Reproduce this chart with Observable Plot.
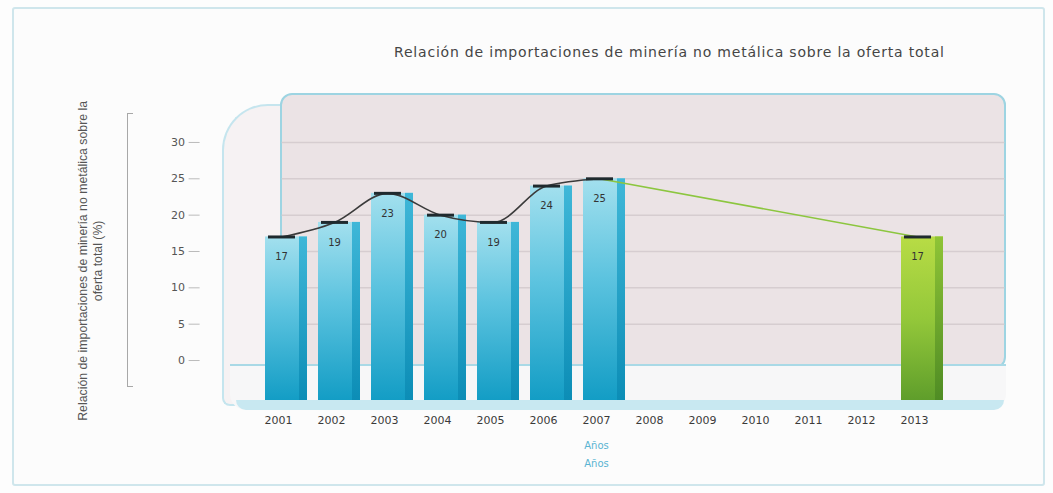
<!DOCTYPE html>
<html>
<head>
<meta charset="utf-8">
<script src="https://cdn.jsdelivr.net/npm/d3@7"></script>
<script src="https://cdn.jsdelivr.net/npm/@observablehq/plot@0.6"></script>
<style>
  html, body { margin: 0; padding: 0; background: #fff; }
  #wrap { position: relative; width: 1053px; height: 493px; overflow: hidden; background: #fdfdfd; }
  .deco { position: absolute; box-sizing: border-box; }
  #frame { left: 12px; top: 7px; width: 1033px; height: 479px; border: 2px solid #cfe6ec; border-radius: 3px; background: #fcfcfc; }
  #leftwall { left: 222px; top: 104px; width: 64px; height: 302px; background: #f6f2f3; border: 2px solid #c5e5ee; border-right: none; border-radius: 46px 0 0 8px; }
  #backwall { left: 280px; top: 93px; width: 726px; height: 276px; background: #ebe3e5; border: 2px solid #9dd4e2; border-radius: 12px; }
  #floor { left: 230px; top: 364px; width: 776px; height: 46px; background: #f7f7f8; border-top: 2px solid #a9d9e6; border-radius: 0 0 16px 16px; }
  #floorband { left: 236px; top: 400px; width: 768px; height: 10px; background: #c8e8f1; border-radius: 0 0 12px 12px; }
  #bracket { left: 127px; top: 113px; width: 6px; height: 274px; border: 1px solid #a8a8a8; border-right: none; }
  #title { position: absolute; left: 394px; top: 44px; font-family: "DejaVu Sans", sans-serif; font-size: 14px; letter-spacing: 0.8px; color: #454545; white-space: nowrap; }
  #chart { position: absolute; left: 0; top: 0; }
</style>
</head>
<body>
<div id="wrap">
  <div class="deco" id="frame"></div>
  <div class="deco" id="leftwall"></div>
  <div class="deco" id="backwall"></div>
  <div class="deco" id="floor"></div>
  <div class="deco" id="floorband"></div>
  <div class="deco" id="bracket"></div>
  <div id="title"></div>
  <div id="chart"></div>
</div>
<script>
// ---- data ----
const years = ["2001","2002","2003","2004","2005","2006","2007","2008","2009","2010","2011","2012","2013"];
const barYears = ["2001","2002","2003","2004","2005","2006","2007","2013"];
const barValues = [17, 19, 23, 20, 19, 24, 25, 17];
const yTicks = [0, 5, 10, 15, 20, 25, 30];
const titleText = "Relación de importaciones de minería no metálica sobre la oferta total";
const yLabel = "Relación de importaciones de minería no metálica sobre la\noferta total (%)";
const xLabels = ["Años", "Años"];
const projectedYear = "2013";
const lastObservedYear = "2007";

const data = barYears.map((year, i) => ({year, value: barValues[i], proj: year === projectedYear}));
const hist = data.filter(d => !d.proj);
const proj = data.filter(d => d.proj);
const bridge = data.filter(d => d.year === lastObservedYear || d.proj);
const yMin = -5.5;

document.getElementById("title").textContent = titleText;

const svg = Plot.plot({
  width: 1053,
  height: 493,
  marginTop: 134.7,
  marginBottom: 93,
  marginLeft: 239.6,
  marginRight: 100.6,
  x: {type: "band", domain: years, padding: 0.2, label: null},
  y: {domain: [yMin, 31], label: null},
  style: {background: "transparent", fontFamily: "DejaVu Sans, sans-serif", overflow: "visible"},
  marks: [
    Plot.ruleY(yTicks.filter(t => t > 0), {stroke: "#d6cdd0", strokeWidth: 1.5, insetLeft: 42, insetRight: -52}),
    Plot.axisY({ticks: yTicks, tickSize: 11, tickPadding: 4, dx: -40, fontSize: 11, stroke: "#bbb", fill: "#555", label: null}),
    Plot.axisX({tickSize: 0, tickPadding: 16, fontSize: 11, fill: "#3a3a3a", label: null}),
    // bars: front face and darker side strip
    Plot.barY(hist, {x: "year", y1: yMin, y2: "value", dx: 8, fill: "url(#gBlue)"}),
    Plot.barY(hist, {x: "year", y1: yMin, y2: "value", dx: 8, insetLeft: 34, fill: "url(#gBlueSide)"}),
    Plot.barY(proj, {x: "year", y1: yMin, y2: "value", dx: 8, fill: "url(#gGreen)"}),
    Plot.barY(proj, {x: "year", y1: yMin, y2: "value", dx: 8, insetLeft: 34, fill: "url(#gGreenSide)"}),
    // lines
    Plot.line(bridge, {x: "year", y: "value", dx: 3, stroke: "#8cc63f", strokeWidth: 1.6}),
    Plot.line(hist, {x: "year", y: "value", dx: 3, stroke: "#3b3b3b", strokeWidth: 1.6, curve: "monotone-x"}),
    Plot.tickY(data, {x: "year", y: "value", dx: 8, insetLeft: 3, insetRight: 12, stroke: "#1f2a2e", strokeWidth: 3}),
    // value labels
    Plot.text(data, {x: "year", y: "value", text: d => String(d.value), dx: 3, dy: 20, fontSize: 10, fill: "#333"}),
    // axis titles
    Plot.text([yLabel], {text: d => d, frameAnchor: "left", textAnchor: "middle", dx: -150, dy: -7, rotate: -90, fontSize: 12.3, fontFamily: "Liberation Sans, Arial, sans-serif", fill: "#555", lineHeight: 1.2}),
    Plot.text([xLabels[0]], {text: d => d, x: () => lastObservedYear, frameAnchor: "bottom", dy: 48, fontSize: 10, fill: "#5ab4d2"}),
    Plot.text([xLabels[1]], {text: d => d, x: () => lastObservedYear, frameAnchor: "bottom", dy: 66, fontSize: 10, fill: "#5ab4d2"})
  ]
});

d3.select(svg).insert("defs", ":first-child").html(`
  <linearGradient id="gBlue" x1="0" y1="0" x2="0" y2="1">
    <stop offset="0" stop-color="#a3e0ee"/>
    <stop offset="0.45" stop-color="#5cc3df"/>
    <stop offset="1" stop-color="#139dc5"/>
  </linearGradient>
  <linearGradient id="gBlueSide" x1="0" y1="0" x2="0" y2="1">
    <stop offset="0" stop-color="#3fb7d8"/>
    <stop offset="1" stop-color="#0c8db6"/>
  </linearGradient>
  <linearGradient id="gGreen" x1="0" y1="0" x2="0" y2="1">
    <stop offset="0" stop-color="#b8dc45"/>
    <stop offset="0.5" stop-color="#94c83a"/>
    <stop offset="1" stop-color="#5f9e2b"/>
  </linearGradient>
  <linearGradient id="gGreenSide" x1="0" y1="0" x2="0" y2="1">
    <stop offset="0" stop-color="#8fc436"/>
    <stop offset="1" stop-color="#4f8c24"/>
  </linearGradient>
`);

document.getElementById("chart").appendChild(svg);
</script>
</body>
</html>
